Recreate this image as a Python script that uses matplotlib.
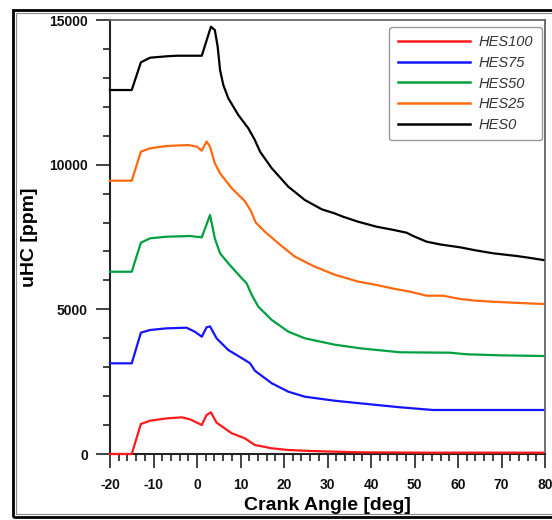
import matplotlib
matplotlib.use("Agg")
import matplotlib.pyplot as plt
from matplotlib.patches import Rectangle
from matplotlib.ticker import MultipleLocator

plt.rcParams['font.family'] = ['Liberation Sans', 'DejaVu Sans']
plt.rcParams['axes.unicode_minus'] = False

labels = ["HES100", "HES75", "HES50", "HES25", "HES0"]
colors = ["#ff1a1a", "#1414ff", "#00a040", "#ff6a10", "#000000"]

x_hes0 = [-20, -15, -12.9, -10.8, -7, -4.7, 1.1, 3.2, 4.1, 4.75, 5.3, 6.05, 7.2, 9.5, 11.8, 13.3, 14.5, 17.2, 21.0,
          24.8, 28.7, 31.6, 33.6, 37, 41.3, 45, 48.2, 49.7, 52.8, 56, 60.5, 64, 68.1, 73.5, 76, 79.6]
y_hes0 = [12580, 12580, 13537, 13697, 13745, 13765, 13765, 14768, 14653, 14077, 13271, 12752, 12293, 11716, 11256,
          10852, 10448, 9874, 9238, 8778, 8456, 8318, 8200, 8030, 7855, 7750, 7648, 7534, 7337, 7240, 7143, 7040,
          6936, 6843, 6790, 6705]

x_hes25 = [-20, -15, -12.9, -10.8, -7, -2, 0, 1.1, 2.2, 3.0, 4.1, 5.3, 8.0, 11.0, 12.4, 13.5, 15.6, 18.7, 22.5,
           27.1, 31.6, 37, 41.3, 45, 49, 52.8, 56.6, 60.5, 64, 68.1, 74, 79.6]
y_hes25 = [9446, 9446, 10448, 10565, 10645, 10679, 10620, 10482, 10800, 10620, 10046, 9701, 9182, 8740, 8400, 8000,
           7683, 7281, 6820, 6473, 6200, 5960, 5841, 5720, 5609, 5471, 5471, 5357, 5300, 5263, 5220, 5184]

x_hes50 = [-20, -15, -12.9, -10.8, -7, -1.6, 1.1, 3.0, 4.1, 5.3, 7.2, 10.3, 11.4, 12.6, 14.1, 17.2, 21.0, 24.8,
           31.6, 37.5, 46.7, 58.2, 62, 70, 79.6]
y_hes50 = [6300, 6300, 7303, 7454, 7510, 7534, 7489, 8260, 7450, 6936, 6590, 6072, 5899, 5495, 5091, 4631, 4228,
           3998, 3780, 3653, 3515, 3501, 3446, 3410, 3387]

x_hes75 = [-20, -15, -12.9, -10.8, -7, -2.4, -0.5, 1.1, 2.2, 3.0, 4.5, 7.2, 11.0, 12.2, 13.3, 17.2, 21.0, 24.8,
           31.6, 37.5, 46.7, 54.3, 79.6]
y_hes75 = [3134, 3134, 4192, 4285, 4343, 4365, 4227, 4054, 4378, 4410, 3998, 3594, 3249, 3134, 2880, 2443, 2153,
           1980, 1842, 1752, 1614, 1521, 1521]

x_hes100 = [-20, -15, -12.9, -10.8, -7, -3.5, -1.6, 1.1, 2.2, 3.2, 4.5, 8.0, 11.0, 13.3, 17.2, 21.0, 26, 31.6,
            37.5, 52.8, 79.6]
y_hes100 = [0, 0, 1037, 1151, 1230, 1268, 1199, 1002, 1348, 1440, 1082, 715, 542, 311, 197, 138, 105, 80, 58,
            46, 46]

series_x = [x_hes100, x_hes75, x_hes50, x_hes25, x_hes0]
series_y = [y_hes100, y_hes75, y_hes50, y_hes25, y_hes0]

x_ticks = [-20, -10, 0, 10, 20, 30, 40, 50, 60, 70, 80]
y_ticks = [0, 5000, 10000, 15000]

W, H = 552, 520
fig = plt.figure(figsize=(W / 100, H / 100), dpi=100)
ax = fig.add_axes([110 / W, 1 - 454 / H, 435 / W, 434 / H])

for xs, ys, c, lab in zip(series_x, series_y, colors, labels):
    ax.plot(xs, ys, color=c, lw=1.6, label=lab, clip_on=False, zorder=3,
            solid_joinstyle='round')

ax.set_xlim(-20, 80)
ax.set_ylim(0, 15000)
ax.set_xticks(x_ticks)
ax.set_yticks(y_ticks)
ax.xaxis.set_minor_locator(MultipleLocator(2))
ax.yaxis.set_minor_locator(MultipleLocator(1000))
ax.tick_params(axis='both', which='major', direction='out', length=10, width=1.2, colors='#222222',
               labelsize=10, labelcolor='#111111')
ax.tick_params(axis='both', which='minor', direction='out', length=5, width=1.2, colors='#222222')
ax.tick_params(axis='x', which='major', pad=7)
ax.tick_params(axis='y', which='major', pad=6)
for lbl in ax.get_xticklabels() + ax.get_yticklabels():
    lbl.set_fontweight('bold')

for side in ['left', 'bottom']:
    ax.spines[side].set_linewidth(1.5)
    ax.spines[side].set_color('#222222')
for side in ['top', 'right']:
    ax.spines[side].set_linewidth(1.3)
    ax.spines[side].set_color('#666666')

ax.set_xlabel("Crank Angle [deg]", fontsize=14, fontweight='bold', labelpad=4)
ax.set_ylabel("uHC [ppm]", fontsize=14, fontweight='bold', labelpad=8)

leg = ax.legend(loc='upper right', bbox_to_anchor=(0.9924, 0.9845), borderaxespad=0,
                handlelength=5.0, handletextpad=0.55, labelspacing=0.45,
                borderpad=0.6, fancybox=True, framealpha=1, edgecolor='#999999',
                prop={'style': 'italic', 'size': 10.5})
leg.get_frame().set_linewidth(1.0)
for t in leg.get_texts():
    t.set_color('#333333')
for l in leg.get_lines():
    l.set_linewidth(1.8)

# outer double border
fig.add_artist(Rectangle((13.3 / W, 1 - 517 / H), (560 - 13.3) / W, (517 - 9.7) / H,
                         transform=fig.transFigure, fill=False, edgecolor='black', lw=2.0, clip_on=False))
fig.add_artist(Rectangle((16 / W, 1 - 514 / H), (560 - 16) / W, (514 - 13.3) / H,
                         transform=fig.transFigure, fill=False, edgecolor='#888888', lw=0.8, clip_on=False))

fig.savefig("out.png", dpi=100)
